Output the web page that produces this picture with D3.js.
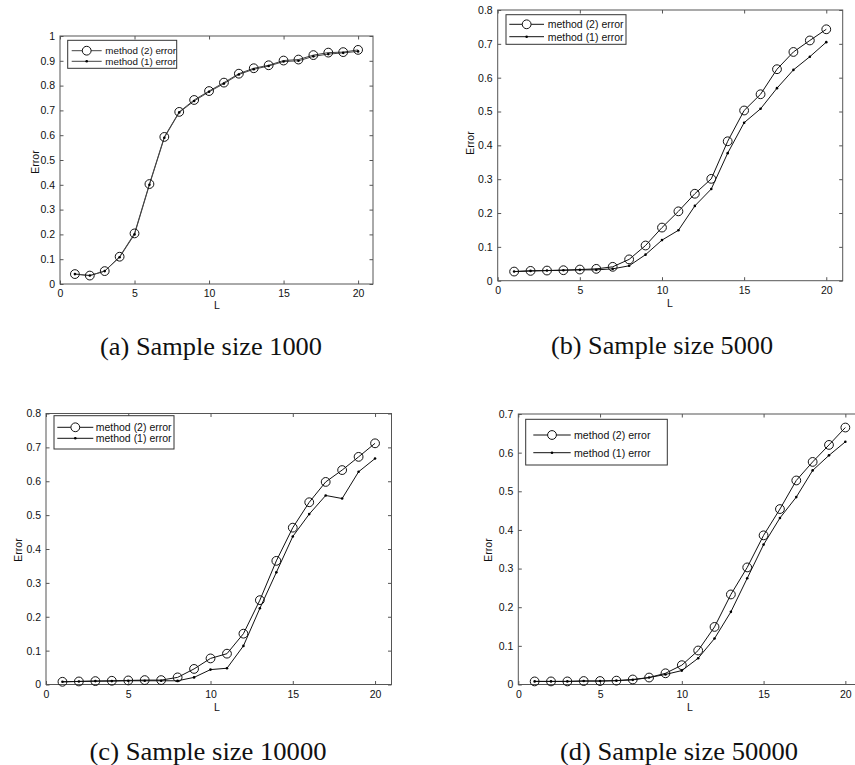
<!DOCTYPE html>
<html>
<head>
<meta charset="utf-8">
<script src="https://cdn.jsdelivr.net/npm/d3@7"></script>
<style>
  html, body { margin: 0; padding: 0; background: #fff; }
  svg { display: block; }
  .cap { font-family: "Liberation Serif", "Times New Roman", Times, serif; }
</style>
</head>
<body>
<svg id="chart" width="855" height="765"></svg>
<script>
// ---- data ----
const L = [1,2,3,4,5,6,7,8,9,10,11,12,13,14,15,16,17,18,19,20];
const xTicks = [0, 5, 10, 15, 20];
const seriesNames = ["method (2) error", "method (1) error"];
const captions = ["(a) Sample size 1000", "(b) Sample size 5000", "(c) Sample size 10000", "(d) Sample size 50000"];

const m2_1000 = [0.040,0.034,0.052,0.110,0.204,0.403,0.593,0.694,0.742,0.778,0.812,0.848,0.870,0.882,0.901,0.905,0.923,0.933,0.935,0.944];
const m1_1000 = [0.040,0.034,0.052,0.108,0.200,0.400,0.590,0.692,0.738,0.775,0.808,0.845,0.866,0.879,0.897,0.900,0.918,0.927,0.932,0.938];

const m2_5000 = [0.027,0.029,0.030,0.031,0.033,0.035,0.041,0.063,0.104,0.157,0.205,0.257,0.301,0.412,0.503,0.551,0.625,0.676,0.710,0.743];
const m1_5000 = [0.027,0.029,0.030,0.031,0.032,0.032,0.035,0.044,0.077,0.120,0.149,0.221,0.271,0.377,0.467,0.508,0.569,0.623,0.662,0.705];

const m2_10000 = [0.008,0.009,0.010,0.011,0.012,0.013,0.013,0.021,0.046,0.077,0.091,0.150,0.249,0.365,0.463,0.538,0.598,0.633,0.672,0.712];
const m1_10000 = [0.008,0.009,0.010,0.010,0.011,0.011,0.011,0.011,0.021,0.044,0.048,0.114,0.225,0.331,0.437,0.503,0.558,0.549,0.628,0.667];

const m2_50000 = [0.008,0.008,0.008,0.009,0.009,0.010,0.013,0.018,0.029,0.050,0.088,0.149,0.233,0.303,0.386,0.454,0.528,0.576,0.620,0.665];
const m1_50000 = [0.008,0.008,0.008,0.009,0.009,0.010,0.012,0.018,0.026,0.036,0.068,0.119,0.188,0.275,0.362,0.431,0.485,0.554,0.593,0.628];

const yMaxes = [1, 0.8, 0.8, 0.7];

// ---- layout ----
const panels = [
  { m2: m2_1000,  m1: m1_1000,  yMax: yMaxes[0], box: {l: 60,    r: 373,   t: 36,    b: 284},
    legend: {x: 67.7, y: 40.3, w: 109, h: 28, r1: 50.7, r2: 61.3, lx1: 71.7, lx2: 101.7, tx: 105.3, fs: 9.8},
    yLab: {x: 36, y: 162}, xLab: {x: 217, y: 309}, cap: {x: 211, y: 355, w: 222}, lineColor: "#444" },
  { m2: m2_5000,  m1: m1_5000,  yMax: yMaxes[1], box: {l: 497.7, r: 842.7, t: 10,    b: 280.7},
    legend: {x: 506, y: 14.7, w: 120, h: 29.6, r1: 24.3, r2: 36.7, lx1: 509.3, lx2: 544, tx: 547.7, fs: 10.5},
    yLab: {x: 471, y: 143}, xLab: {x: 670, y: 307}, cap: {x: 662, y: 354, w: 222}, lineColor: "#111" },
  { m2: m2_10000, m1: m1_10000, yMax: yMaxes[2], box: {l: 46,    r: 391.5, t: 413.5, b: 684.5},
    legend: {x: 54, y: 415.7, w: 120, h: 33.3, r1: 427.3, r2: 438.3, lx1: 57.3, lx2: 93.3, tx: 95.7, fs: 10.5},
    yLab: {x: 19, y: 550}, xLab: {x: 217, y: 711}, cap: {x: 208, y: 760, w: 237}, lineColor: "#111" },
  { m2: m2_50000, m1: m1_50000, yMax: yMaxes[3], box: {l: 518.3, r: 861.7, t: 414,   b: 684.5},
    legend: {x: 525.7, y: 419.3, w: 141.6, h: 45.7, r1: 435, r2: 452.7, lx1: 533.3, lx2: 570.7, tx: 574, fs: 10.6},
    yLab: {x: 489, y: 550}, xLab: {x: 690, y: 711}, cap: {x: 679, y: 760, w: 238}, lineColor: "#111" }
];

const svg = d3.select("#chart");
const tickFont = "'Liberation Sans', Arial, sans-serif";
const axisColor = "#555";
const tickLen = 3.5;

panels.forEach((p, i) => {
  const g = svg.append("g");
  const x = d3.scaleLinear().domain([0, 21]).range([p.box.l, p.box.r]);
  const y = d3.scaleLinear().domain([0, p.yMax]).range([p.box.b, p.box.t]);
  const yTicks = d3.range(0, p.yMax + 1e-9, 0.1).map(v => +v.toFixed(1));

  const xAxis = g.append("g").attr("transform", `translate(0,${p.box.b})`)
    .call(d3.axisBottom(x).tickValues(xTicks).tickSizeInner(-tickLen).tickSizeOuter(0).tickPadding(6).tickFormat(d3.format("d")));
  const xAxisTop = g.append("g").attr("transform", `translate(0,${p.box.t})`)
    .call(d3.axisTop(x).tickValues(xTicks).tickSizeInner(-tickLen).tickSizeOuter(0).tickFormat(""));
  const yAxis = g.append("g").attr("transform", `translate(${p.box.l},0)`)
    .call(d3.axisLeft(y).tickValues(yTicks).tickSizeInner(-tickLen).tickSizeOuter(0).tickPadding(5).tickFormat(d => d === 0 ? "0" : (d === 1 ? "1" : d3.format(".1f")(d))));
  const yAxisR = g.append("g").attr("transform", `translate(${p.box.r},0)`)
    .call(d3.axisRight(y).tickValues(yTicks).tickSizeInner(-tickLen).tickSizeOuter(0).tickFormat(""));
  [xAxis, xAxisTop, yAxis, yAxisR].forEach(a => {
    a.select(".domain").remove();
    a.selectAll(".tick line").attr("stroke", axisColor).attr("stroke-width", 1);
    a.selectAll("text").attr("font-family", tickFont).attr("font-size", 10.5).attr("fill", "#111");
  });
  g.append("rect").attr("x", p.box.l).attr("y", p.box.t)
    .attr("width", p.box.r - p.box.l).attr("height", p.box.b - p.box.t)
    .attr("fill", "none").attr("stroke", axisColor).attr("stroke-width", 1);

  g.append("text").attr("x", p.xLab.x).attr("y", p.xLab.y).attr("text-anchor", "middle")
    .attr("font-family", tickFont).attr("font-size", 10.5).attr("fill", "#111").text("L");
  g.append("text").attr("transform", `translate(${p.yLab.x},${p.yLab.y}) rotate(-90)`)
    .attr("text-anchor", "middle").attr("dominant-baseline", "middle")
    .attr("font-family", tickFont).attr("font-size", 10.5).attr("fill", "#111").text("Error");

  const line = d3.line().x(d => x(d[0])).y(d => y(d[1]));
  const d2 = L.map((l, k) => [l, p.m2[k]]);
  const d1 = L.map((l, k) => [l, p.m1[k]]);
  g.append("path").datum(d1).attr("d", line).attr("fill", "none").attr("stroke", p.lineColor).attr("stroke-width", 1);
  g.append("path").datum(d2).attr("d", line).attr("fill", "none").attr("stroke", p.lineColor).attr("stroke-width", 1);
  g.selectAll(".c2").data(d2).enter().append("circle")
    .attr("cx", d => x(d[0])).attr("cy", d => y(d[1])).attr("r", 4.4)
    .attr("fill", "none").attr("stroke", "#111").attr("stroke-width", 1);
  g.selectAll(".c1").data(d1).enter().append("circle")
    .attr("cx", d => x(d[0])).attr("cy", d => y(d[1])).attr("r", 1.3)
    .attr("fill", "#000");

  const lg = p.legend;
  g.append("rect").attr("x", lg.x).attr("y", lg.y).attr("width", lg.w).attr("height", lg.h)
    .attr("fill", "#fff").attr("stroke", "#333").attr("stroke-width", 1);
  [lg.r1, lg.r2].forEach((ry, k) => {
    g.append("line").attr("x1", lg.lx1).attr("x2", lg.lx2).attr("y1", ry).attr("y2", ry)
      .attr("stroke", p.lineColor).attr("stroke-width", 1);
    const cx = (lg.lx1 + lg.lx2) / 2;
    if (k === 0) {
      g.append("circle").attr("cx", cx).attr("cy", ry).attr("r", 4.4)
        .attr("fill", "#fff").attr("stroke", "#111").attr("stroke-width", 1);
    } else {
      g.append("circle").attr("cx", cx).attr("cy", ry).attr("r", 1.3).attr("fill", "#000");
    }
    g.append("text").attr("x", lg.tx).attr("y", ry).attr("dominant-baseline", "central")
      .attr("font-family", tickFont).attr("font-size", lg.fs).attr("fill", "#111")
      .text(seriesNames[k]);
  });

  svg.append("text").attr("class", "cap").attr("x", p.cap.x).attr("y", p.cap.y).attr("text-anchor", "middle")
    .attr("font-size", 25)
    .attr("textLength", p.cap.w).attr("lengthAdjust", "spacingAndGlyphs")
    .attr("fill", "#111").text(captions[i]);
});
</script>
</body>
</html>
